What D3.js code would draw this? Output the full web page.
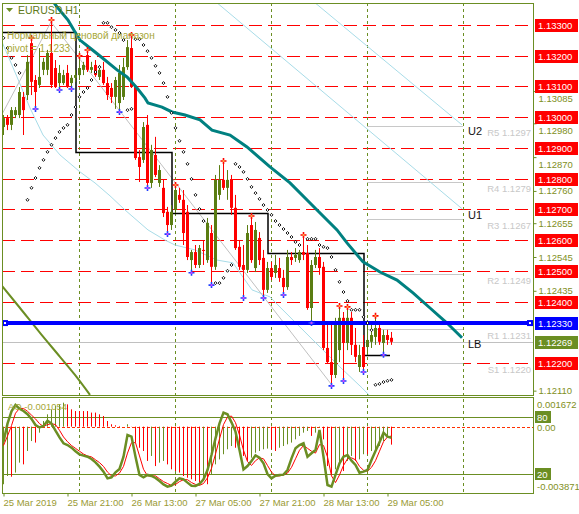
<!DOCTYPE html>
<html>
<head>
<meta charset="utf-8">
<script src="https://cdnjs.cloudflare.com/ajax/libs/d3/7.8.5/d3.min.js"></script>
<style>
  body { margin: 0; background: #fff; }
  svg { display: block; }
  text { font-family: "Liberation Sans", Arial, sans-serif; font-size: 9.5px; }
</style>
</head>
<body>
<svg id="chart" width="579" height="514"></svg>
<script>
// ---- data (EURUSD H1, bar 0 = 25 Mar 2019 05:00) ----
const open = [1.12968,1.12997,1.12975,1.13007,1.13007,1.13066,1.13072,1.13241,1.13121,1.13105,
  1.13154,1.13154,1.13209,1.13160,1.13111,1.13111,1.13144,1.13111,1.13128,1.13137,
  1.13154,1.13202,1.13154,1.13170,1.13131,1.13154,1.13111,1.13095,1.13066,1.13046,
  1.13066,1.13163,1.13225,1.13098,1.12870,1.12861,1.12975,1.12786,1.12877,1.12786,
  1.12770,1.12692,1.12649,1.12698,1.12747,1.12731,1.12692,1.12535,1.12561,1.12519,
  1.12568,1.12535,1.12623,1.12513,1.12747,1.12796,1.12770,1.12796,1.12705,1.12578,
  1.12519,1.12503,1.12649,1.12509,1.12607,1.12542,1.12438,1.12509,1.12493,1.12509,
  1.12477,1.12447,1.12545,1.12542,1.12535,1.12561,1.12558,1.12379,1.12519,1.12545,
  1.12513,1.12249,1.12203,1.12161,1.12242,1.12347,1.12265,1.12347,1.12259,1.12187,
  1.12252,1.12252,1.12269,1.12285,1.12314,1.12265,1.12291,1.12282];
const high = [1.13007,1.13007,1.13033,1.13033,1.13098,1.13082,1.13202,1.13251,1.13137,1.13225,
  1.13193,1.13219,1.13310,1.13186,1.13170,1.13154,1.13170,1.13137,1.13154,1.13193,
  1.13180,1.13212,1.13180,1.13186,1.13170,1.13180,1.13131,1.13111,1.13131,1.13170,
  1.13193,1.13251,1.13261,1.13105,1.12893,1.12984,1.13007,1.12910,1.12936,1.12844,
  1.12796,1.12708,1.12714,1.12773,1.12770,1.12763,1.12714,1.12568,1.12584,1.12584,
  1.12600,1.12672,1.12649,1.12812,1.12844,1.12851,1.12828,1.12812,1.12747,1.12600,
  1.12584,1.12649,1.12672,1.12659,1.12626,1.12568,1.12529,1.12529,1.12552,1.12542,
  1.12503,1.12568,1.12561,1.12574,1.12568,1.12610,1.12584,1.12535,1.12568,1.12574,
  1.12529,1.12324,1.12324,1.12347,1.12379,1.12366,1.12376,1.12366,1.12314,1.12259,
  1.12291,1.12340,1.12334,1.12347,1.12324,1.12308,1.12308,1.12301];
const low = [1.12942,1.12958,1.12958,1.12997,1.12997,1.12942,1.13056,1.13072,1.13033,1.13095,
  1.13137,1.13137,1.13095,1.13095,1.13095,1.13105,1.13095,1.13098,1.13115,1.13121,
  1.13137,1.13147,1.13144,1.13131,1.13121,1.13105,1.13056,1.13046,1.13027,1.13023,
  1.13056,1.13154,1.13095,1.12861,1.12789,1.12851,1.12776,1.12770,1.12805,1.12773,
  1.12675,1.12626,1.12633,1.12688,1.12721,1.12584,1.12535,1.12500,1.12509,1.12509,
  1.12519,1.12526,1.12460,1.12503,1.12731,1.12763,1.12731,1.12682,1.12568,1.12503,
  1.12418,1.12493,1.12526,1.12496,1.12519,1.12418,1.12428,1.12470,1.12477,1.12464,
  1.12428,1.12438,1.12519,1.12529,1.12526,1.12535,1.12373,1.12337,1.12509,1.12487,
  1.12242,1.12197,1.12132,1.12151,1.12203,1.12148,1.12242,1.12226,1.12203,1.12171,
  1.12177,1.12226,1.12249,1.12259,1.12259,1.12233,1.12259,1.12259];
const close = [1.12997,1.12975,1.13023,1.13023,1.13082,1.13023,1.13180,1.13115,1.13082,1.13131,
  1.13180,1.13209,1.13105,1.13098,1.13144,1.13137,1.13098,1.13128,1.13137,1.13160,
  1.13170,1.13154,1.13163,1.13137,1.13154,1.13111,1.13072,1.13066,1.13121,1.13144,
  1.13163,1.13228,1.13098,1.12867,1.12838,1.12968,1.12786,1.12893,1.12812,1.12828,
  1.12688,1.12649,1.12692,1.12763,1.12731,1.12623,1.12545,1.12561,1.12519,1.12574,
  1.12565,1.12656,1.12513,1.12796,1.12796,1.12770,1.12796,1.12705,1.12574,1.12513,
  1.12503,1.12623,1.12535,1.12633,1.12535,1.12438,1.12509,1.12480,1.12519,1.12477,
  1.12447,1.12545,1.12535,1.12552,1.12561,1.12552,1.12379,1.12519,1.12545,1.12509,
  1.12249,1.12203,1.12161,1.12334,1.12347,1.12265,1.12347,1.12259,1.12220,1.12226,
  1.12187,1.12275,1.12291,1.12314,1.12269,1.12291,1.12275,1.12269];

const timeTickBars = [0, 16, 32, 48, 64, 80, 96];
const timeLabels = ['25 Mar 2019', '25 Mar 21:00', '26 Mar 13:00', '27 Mar 05:00', '27 Mar 21:00', '28 Mar 13:00', '29 Mar 05:00'];
const dayStartBars = [19, 43, 67, 91, 115];

const roundLevels = [1.133, 1.132, 1.131, 1.130, 1.129, 1.128, 1.127, 1.126, 1.125, 1.124, 1.122];
const priceTicks = [1.13085, 1.12980, 1.12870, 1.12760, 1.12655, 1.12545, 1.12435, 1.12110];
const pivotValue = 1.1233;
const lastPrice = 1.12269;
const pivotNames = ['R5', 'R4', 'R3', 'R2', 'R1', 'S1'];
const pivotLevels = [1.1297, 1.1279, 1.1267, 1.1249, 1.1231, 1.1220];

// shifted moving average (teal), [bar, price]
const tealMA = [[12.25,1.13381],[13.75,1.13355],[16.25,1.13316],[18,1.13277],[19.25,1.13251],[21.75,1.13225],
  [24.25,1.13199],[28.5,1.13154],[31,1.13131],[33.5,1.13095],[35.5,1.13062],[36.25,1.13046],[39.75,1.13033],
  [42.25,1.13017],[45.5,1.13007],[49.25,1.12991],[52.25,1.12958],[56.75,1.12942],[61,1.12903],[66.75,1.12838],
  [71.75,1.12786],[78.5,1.12698],[83.5,1.12633],[86,1.12591],[90,1.12529],[94.25,1.12496],[98.5,1.12470],
  [102.5,1.12428],[106.75,1.12379],[111,1.12330],[114.75,1.12282]];
const oliveMA = [[-0.25,1.12451],[4.25,1.12379],[9.25,1.12298],[14.25,1.12220],[18,1.12161],[21.75,1.12096]];
const blueCurve = [[-0.25,1.13245],[3.5,1.13131],[6.75,1.13030],[10,1.12942],[14.25,1.12877],[19.25,1.12822],
  [23,1.12786],[26.75,1.12744],[30.5,1.12698],[36.25,1.12633],[40.5,1.12600],[43,1.12584],[48,1.12568],
  [53.5,1.12535],[57.5,1.12526],[60.5,1.12470],[62.25,1.12438],[66.75,1.12415],[69.25,1.12382],[74.25,1.12317],
  [79.25,1.12252],[84.25,1.12187],[89.75,1.12119],[92.25,1.12086]];
const channelU2 = [[77.75,1.13375],[114.75,1.12975]];
const channelU1 = [[53.25,1.13375],[114.75,1.12702]];
const zigzag = [[-0.75,1.12997],[12,1.13310],[82,1.12132]];
const rangeBars = [-0.75, 18.25, 42.25, 66.25, 90.25, 96.75];
const rangeValues = [1.13277, 1.12887, 1.12688, 1.12558, 1.12226, 1.12226];

const sarBars = [0,1,2,3,4,6,7,8,9,10,11,12,13,14,15,16,17,18,19,20,21,22,23,24,25,26,27,28,29,30,31,32,
  33,34,35,36,37,38,39,40,41,42,43,44,45,46,47,48,49,50,53,54,55,56,57,58,59,60,61,62,63,64,65,66,67,68,69,
  70,71,72,73,74,76,77,78,79,80,81,82,83,84,85,86,87,88,89,90,91,92,93,94,95,96,97];
const sarValues = [1.13258,1.13225,1.13193,1.13170,1.13144,1.12731,1.12770,1.12802,1.12835,1.12861,1.12887,
  1.12910,1.12932,1.12952,1.12965,1.12975,1.13007,1.13033,1.13066,1.13082,1.13095,1.13121,1.13147,1.13163,
  1.13307,1.13307,1.13293,1.13284,1.13274,1.13251,1.13023,1.13027,
  1.13254,1.13254,1.13235,1.13215,1.13193,1.13167,1.13144,1.13111,1.13066,1.13014,1.12965,1.12923,1.12887,
  1.12848,1.12799,1.12747,1.12701,1.12662,1.12460,1.12460,1.12477,1.12500,1.12519,1.12848,1.12838,1.12822,
  1.12799,1.12773,1.12753,1.12734,1.12714,1.12698,1.12682,1.12662,1.12649,1.12636,1.12623,1.12610,1.12594,
  1.12584,1.12604,1.12604,1.12604,1.12584,1.12578,1.12574,1.12545,1.12503,1.12464,1.12431,1.12402,1.12373,
  1.12373,1.12373,1.12350,1.12330,1.12307,1.12129,1.12132,1.12138,1.12142,1.12145];
const fractalUp = [7, 12, 19, 21, 32, 43, 55, 62, 75, 84, 86, 93];
const fractalDown = [8, 14, 17, 29, 36, 41, 47, 52, 60, 65, 70, 77, 82, 85, 90, 95];

const aoValues = [-0.00336,-0.00288,-0.00292,-0.00268,-0.00210,-0.00220,-0.00142,-0.00084,-0.00093,-0.00035,
  0.00033,0.00072,0.00101,0.00121,0.00130,0.00140,0.00130,0.00101,0.00091,0.00091,
  0.00091,0.00091,0.00082,0.00082,0.00072,0.00062,0.00033,0.00014,0.00008,0.00004,
  0.00000,0.00014,-0.00001,-0.00093,-0.00123,-0.00142,-0.00200,-0.00171,-0.00230,-0.00210,
  -0.00200,-0.00220,-0.00249,-0.00259,-0.00268,-0.00288,-0.00298,-0.00307,-0.00317,-0.00327,
  -0.00307,-0.00336,-0.00278,-0.00220,-0.00191,-0.00161,-0.00132,-0.00113,-0.00123,-0.00142,
  -0.00171,-0.00200,-0.00181,-0.00152,-0.00142,-0.00132,-0.00128,-0.00132,-0.00142,-0.00123,
  -0.00113,-0.00103,-0.00093,-0.00074,-0.00054,-0.00035,-0.00025,-0.00054,-0.00035,-0.00006,
  -0.00074,-0.00230,-0.00278,-0.00249,-0.00220,-0.00259,-0.00200,-0.00171,-0.00200,-0.00191,
  -0.00161,-0.00161,-0.00142,-0.00132,-0.00113,-0.00084,-0.00054,-0.00105];
const stochMain = [54,73,86,92.6,88.8,86.3,83,78,71.6,69,70.5,76,73,65.6,58.6,52.3,50.5,47.7,43.9,40.7,
  39.3,38.2,35.8,32.3,27.7,22.5,15.4,16.5,21.8,25.3,38.2,61,59.3,38.2,19,16.5,19,17.9,15.8,12.6,
  9.1,6.7,7.7,11.9,15.4,14.4,10.9,7.7,7.4,9.5,14.4,24.2,40,57.5,73.3,84.6,82.8,74.4,64.6,45.3,
  24.9,28.4,33.7,39.6,37.2,31.2,20,15.4,18.2,19,19.3,24.2,36.5,47,50.5,52.3,38.2,41.8,45.3,66.3,
  38.2,8.4,6.7,19,31.2,38.2,40,34,29.5,21.4,22.5,24.2,34.7,44.2,53.3,63.5,59.3,58.2];
const stochSignal = [50,60,71,84,89,89,86,82,78,73,70,72,73,72,66,59,54,50,47,44,
  41,39,38,35,32,28,22,18,18,21,28,42,53,53,39,25,18,18,18,15,
  12,10,8,9,12,14,14,11,9,8,10,16,26,41,57,72,80,81,74,61,
  45,33,29,34,37,36,29,22,18,18,19,21,27,36,45,50,47,44,42,51,
  50,38,18,11,19,29,36,37,35,28,24,23,27,34,44,54,59,60];

// ---- layout ----
const frame = { left: 2, right: 533, top: 3, bottom: 395 };
const sub = { top: 397, bottom: 493 };
const olive = '#6b8e23';
const bull = '#5a7d12';
const axisText = '#7f8f22';

const x = d3.scaleLinear().domain([0, 1]).range([3, 7]);
const y = d3.scaleLinear().domain([1.133, 1.122]).range([25, 363]);
const aoY = d3.scaleLinear().domain([0.001672, -0.003871]).range([398, 493]);
const stY = d3.scaleLinear().domain([100, 0]).range([398, 493]);

const svg = d3.select('#chart');
const defs = svg.append('defs');
defs.append('clipPath').attr('id', 'clipMain').append('rect')
  .attr('x', frame.left).attr('y', frame.top)
  .attr('width', frame.right - frame.left).attr('height', frame.bottom - frame.top);
defs.append('clipPath').attr('id', 'clipSub').append('rect')
  .attr('x', frame.left).attr('y', sub.top)
  .attr('width', frame.right - frame.left).attr('height', sub.bottom - sub.top);

const gMain = svg.append('g').attr('clip-path', 'url(#clipMain)');
const gSub = svg.append('g').attr('clip-path', 'url(#clipSub)');
const pairLine = d3.line().x(d => x(d[0])).y(d => y(d[1]));

// round levels
gMain.selectAll('line.round').data(roundLevels).join('line')
  .attr('class', 'round')
  .attr('x1', frame.left).attr('x2', frame.right)
  .attr('y1', d => Math.round(y(d)) + 0.5).attr('y2', d => Math.round(y(d)) + 0.5)
  .attr('stroke', '#ff0000').attr('stroke-dasharray', '13,6');

// day separators across both panes
[gMain, gSub].forEach(g => {
  g.selectAll('line.day').data(dayStartBars).join('line')
    .attr('class', 'day')
    .attr('x1', d => x(d) + 0.5).attr('x2', d => x(d) + 0.5)
    .attr('y1', frame.top).attr('y2', sub.bottom)
    .attr('stroke', olive).attr('stroke-dasharray', '3,3');
});

// daily pivot levels (current day only)
gMain.selectAll('line.pivot').data(pivotLevels).join('line')
  .attr('class', 'pivot')
  .attr('x1', x(91)).attr('x2', x(115))
  .attr('y1', d => Math.round(y(d)) + 0.5).attr('y2', d => Math.round(y(d)) + 0.5)
  .attr('stroke', '#c8c8c8');
gMain.selectAll('text.pivot').data(pivotLevels).join('text')
  .attr('class', 'pivot')
  .attr('x', 531).attr('y', d => y(d) + 10)
  .attr('text-anchor', 'end').attr('fill', '#c8c8c8')
  .text((d, i) => `${pivotNames[i]} ${d.toFixed(4)}`);

// bid line
gMain.append('line')
  .attr('x1', frame.left).attr('x2', frame.right)
  .attr('y1', Math.round(y(lastPrice)) + 0.5).attr('y2', Math.round(y(lastPrice)) + 0.5)
  .attr('stroke', '#c0c0c0');

// channel / helper lines
gMain.append('path').datum(blueCurve).attr('d', pairLine)
  .attr('fill', 'none').attr('stroke', '#a8dce8');
[channelU2, channelU1].forEach(c => {
  gMain.append('path').datum(c).attr('d', pairLine)
    .attr('fill', 'none').attr('stroke', '#a8dce8');
});
gMain.append('path').datum(zigzag).attr('d', pairLine)
  .attr('fill', 'none').attr('stroke', '#c0c0c0');
gMain.append('path').datum(oliveMA)
  .attr('d', d3.line().x(d => x(d[0])).y(d => y(d[1])).curve(d3.curveMonotoneX))
  .attr('fill', 'none').attr('stroke', olive).attr('stroke-width', 2);

// normal price range step line
gMain.append('path')
  .datum(rangeBars.map((b, i) => [b, rangeValues[i]]))
  .attr('d', d3.line().x(d => x(d[0])).y(d => Math.round(y(d[1])) + 0.5).curve(d3.curveStepAfter))
  .attr('fill', 'none').attr('stroke', '#000').attr('stroke-width', 1.5);

// candles
const candles = open.map((o, i) => ({ i, o, h: high[i], l: low[i], c: close[i] }));
const cg = gMain.append('g').selectAll('g').data(candles).join('g');
cg.append('line')
  .attr('x1', d => x(d.i) + 0.5).attr('x2', d => x(d.i) + 0.5)
  .attr('y1', d => y(d.h)).attr('y2', d => y(d.l))
  .attr('stroke', d => d.c >= d.o ? bull : '#ff0000');
cg.append('rect')
  .attr('x', d => x(d.i) - 1).attr('width', 3)
  .attr('y', d => y(Math.max(d.o, d.c)))
  .attr('height', d => Math.max(1, Math.abs(y(d.o) - y(d.c))))
  .attr('fill', d => d.c >= d.o ? bull : '#ff0000');

// teal MA
gMain.append('path').datum(tealMA).attr('d', pairLine)
  .attr('fill', 'none').attr('stroke', '#008080').attr('stroke-width', 3);

// pivot line
gMain.append('line')
  .attr('x1', frame.left).attr('x2', frame.right)
  .attr('y1', y(pivotValue)).attr('y2', y(pivotValue))
  .attr('stroke', '#0000ff').attr('stroke-width', 4);
[5, 530].forEach(px => {
  gMain.append('rect').attr('x', px - 3).attr('y', y(pivotValue) - 3)
    .attr('width', 6).attr('height', 6).attr('fill', '#0000ff');
  gMain.append('rect').attr('x', px - 1).attr('y', y(pivotValue) - 1)
    .attr('width', 2).attr('height', 2).attr('fill', '#fff');
});

// parabolic SAR
gMain.append('g').selectAll('path').data(sarBars).join('path')
  .attr('transform', (b, i) => `translate(${x(b) + 0.5},${y(sarValues[i])})`)
  .attr('d', 'M0,-1.5L1.5,0L0,1.5L-1.5,0Z')
  .attr('fill', '#fff').attr('stroke', '#000').attr('stroke-width', 0.9);

// fractals
const cross = 'M-0.8,-3H0.8V-0.8H3V0.8H0.8V3H-0.8V0.8H-3V-0.8H-0.8Z';
gMain.append('g').selectAll('g').data(fractalUp).join('g')
  .attr('transform', b => `translate(${x(b) + 0.5},${y(high[b]) - 2})`)
  .call(g => g.append('path').attr('d', cross).attr('fill', '#ff0000'))
  .call(g => g.append('rect').attr('x', -1).attr('y', -1).attr('width', 2).attr('height', 2).attr('fill', '#ffa040'));
gMain.append('g').selectAll('g').data(fractalDown).join('g')
  .attr('transform', b => `translate(${x(b) + 0.5},${y(low[b]) + 2})`)
  .call(g => g.append('path').attr('d', cross).attr('fill', '#2040ff'))
  .call(g => g.append('rect').attr('x', -1).attr('y', -1).attr('width', 2).attr('height', 2).attr('fill', '#d040ff'));

// texts on the main pane
gMain.append('path').attr('d', 'M6,8H13L9.5,12Z').attr('fill', olive);
gMain.append('text').attr('x', 18).attr('y', 14).attr('fill', '#5f7a1a')
  .style('font-size', '10.5px').text('EURUSD,H1');
gMain.append('text').attr('x', 7).attr('y', 39).attr('fill', '#a8a838')
  .style('font-size', '10px').text('Нормальный ценовой диапазон');
gMain.append('text').attr('x', 7).attr('y', 52).attr('fill', '#a8a838')
  .style('font-size', '10px').text('pivot = 1.1233');
[['U2', channelU2[1]], ['U1', channelU1[1]], ['LB', tealMA[tealMA.length - 1]]].forEach(([t, p]) => {
  gMain.append('text').attr('x', 468).attr('y', y(p[1]) + 10).attr('fill', '#111')
    .style('font-size', '11px').text(t);
});

// ---- AO / stochastic pane ----
[80, 20].forEach(v => {
  gSub.append('line').attr('x1', frame.left).attr('x2', frame.right)
    .attr('y1', Math.round(stY(v)) + 0.5).attr('y2', Math.round(stY(v)) + 0.5)
    .attr('stroke', olive);
});
gSub.append('line').attr('x1', frame.left).attr('x2', frame.right)
  .attr('y1', Math.round(aoY(0)) + 0.5).attr('y2', Math.round(aoY(0)) + 0.5)
  .attr('stroke', '#ff3000').attr('stroke-dasharray', '3,2');
gSub.append('g').selectAll('line').data(aoValues).join('line')
  .attr('x1', (d, i) => x(i) + 0.5).attr('x2', (d, i) => x(i) + 0.5)
  .attr('y1', aoY(0)).attr('y2', d => aoY(d))
  .attr('stroke', (d, i) => (i === 0 || d > aoValues[i - 1]) ? olive : '#ff0000');
gSub.append('path').datum(stochSignal)
  .attr('d', d3.line().x((d, i) => x(i) + 0.5).y(d => stY(d)))
  .attr('fill', 'none').attr('stroke', '#ff0000').attr('stroke-width', 1);
gSub.append('path').datum(stochMain)
  .attr('d', d3.line().x((d, i) => x(i) + 0.5).y(d => stY(d)))
  .attr('fill', 'none').attr('stroke', olive).attr('stroke-width', 2.5);
gSub.append('text').attr('x', 8).attr('y', 410).attr('fill', '#a8a838')
  .text('AO -0.001054');

// frames
svg.append('rect').attr('x', frame.left + 0.5).attr('y', frame.top + 0.5)
  .attr('width', frame.right - frame.left).attr('height', frame.bottom - frame.top)
  .attr('fill', 'none').attr('stroke', olive);
svg.append('rect').attr('x', frame.left + 0.5).attr('y', sub.top + 0.5)
  .attr('width', frame.right - frame.left).attr('height', sub.bottom - sub.top)
  .attr('fill', 'none').attr('stroke', olive);

// ---- price axis ----
const priceAxis = svg.append('g').attr('transform', `translate(${frame.right + 0.5},0)`)
  .call(d3.axisRight(y).tickValues(priceTicks).tickFormat(d3.format('.5f')).tickSize(3).tickPadding(2));
priceAxis.select('.domain').remove();
priceAxis.selectAll('line').attr('stroke', olive);
priceAxis.selectAll('text').attr('fill', axisText).style('font-size', '9.5px');
// labels just under a level box are nudged below it, as on the terminal
priceAxis.selectAll('.tick')
  .filter(d => roundLevels.some(r => y(d) > y(r) && y(d) - y(r) < 11))
  .select('text').attr('dy', '1.05em');

function priceBox(value, bg, label) {
  const g = svg.append('g').attr('transform', `translate(535,${Math.round(y(value))})`);
  g.append('rect').attr('x', 0).attr('y', -6).attr('width', 43).attr('height', 13).attr('fill', bg);
  g.append('text').attr('x', 3).attr('y', 4).attr('fill', '#fff').text(label);
}
roundLevels.forEach(v => priceBox(v, '#ff0000', v.toFixed(5)));
priceBox(pivotValue, '#0000ff', pivotValue.toFixed(5));
priceBox(lastPrice, olive, lastPrice.toFixed(5));

// sub-pane scale labels
const subLabels = svg.append('g').attr('fill', axisText);
subLabels.append('text').attr('x', 537).attr('y', aoY(0.001672) + 10).text('0.001672');
subLabels.append('text').attr('x', 537).attr('y', aoY(-0.003871) - 3).text('-0.003871');
subLabels.append('text').attr('x', 537).attr('y', aoY(0) + 4).text('0.00');
[80, 20].forEach(v => {
  svg.append('rect').attr('x', 535).attr('y', stY(v) - 6).attr('width', 16).attr('height', 12).attr('fill', olive);
  svg.append('text').attr('x', 537).attr('y', stY(v) + 4).attr('fill', '#fff').text(v);
});

// ---- time axis ----
const timeAxis = svg.append('g').attr('transform', `translate(0,${sub.bottom + 0.5})`)
  .call(d3.axisBottom(x).tickValues(timeTickBars).tickFormat((d, i) => timeLabels[i]).tickSize(3).tickPadding(3));
timeAxis.select('.domain').remove();
timeAxis.selectAll('line').attr('stroke', olive).attr('transform', 'translate(0.5,0)');
timeAxis.selectAll('text').attr('text-anchor', 'start').attr('dx', 0).attr('fill', '#9a9a34')
  .style('font-size', '9.5px');
</script>
</body>
</html>
